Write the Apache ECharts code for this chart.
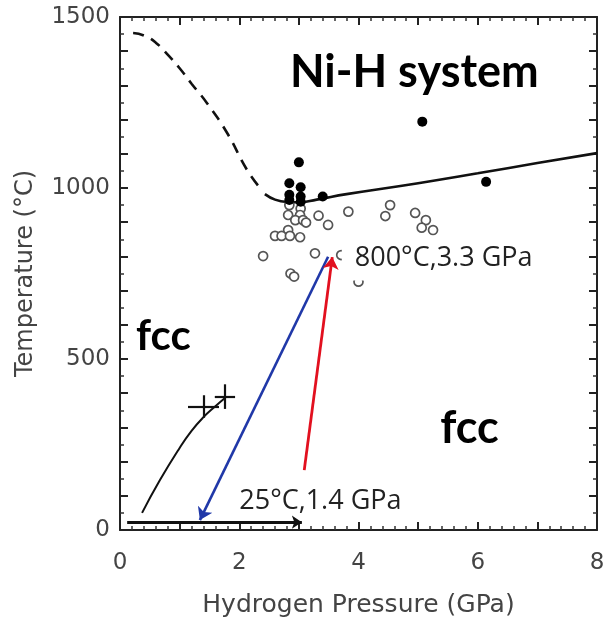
<!DOCTYPE html>
<html>
<head>
<meta charset="utf-8">
<script src="https://cdn.jsdelivr.net/npm/echarts@6/dist/echarts.min.js"></script>
<style>
html,body{margin:0;padding:0;background:#fff;}
#chart{width:605px;height:619px;}
</style>
</head>
<body>
<div id="chart"></div>
<script>
// ---- data (pressure GPa, temperature °C) ----
const dashedBoundary = [[0.22,1453],[0.4,1446],[0.6,1425],[0.8,1390],[1.0,1350],[1.2,1305],[1.46,1248],[1.8,1160],[2.13,1053],[2.35,1000]];
const solidBoundary = [[2.43,982],[2.6,966],[2.8,959],[3.0,958],[3.3,966],[3.8,982],[5.0,1014],[6.0,1043],[7.0,1073],[8.0,1102]];
const filledX = [3.0, 2.84, 3.03, 2.84, 3.03, 2.84, 3.03, 3.4, 5.07, 6.14];
const filledT = [1075, 1014, 1002, 980, 975, 965, 960, 975, 1194, 1018];
const openX = [2.84,3.03,2.82,3.02,2.94,3.07,3.12,3.33,3.49,3.83,2.82,2.6,2.71,2.85,3.02,2.4,3.27,2.86,2.92,3.71,4.0,4.45,4.53,4.95,5.13,5.06,5.25];
const openT = [950,940,921,921,906,906,899,919,892,931,877,860,860,860,856,801,809,750,741,804,726,918,950,927,906,884,877];
const lowCurve = [[0.37,50],[0.67,146],[1.0,240],[1.2,290],[1.4,330],[1.6,362],[1.76,386]];
const crossCenters = [[1.40,361],[1.76,390]];
const crossHalfX = [0.26,0.17];
const crossHalfT = [33,36];
const blueArrow = [[3.49,799],[1.34,29]];
const redArrow = [[3.09,175],[3.56,798]];
const blackArrow = [[0.12,23],[3.05,23]];
const xTicks = [0,2,4,6,8];
const yTicks = [0,500,1000,1500];
const textLabels = [
  {name:'Ni-H system', x:2.85, t:1338},
  {name:'fcc', x:0.27, t:565},
  {name:'fcc', x:5.37, t:298},
  {name:'800°C,3.3 GPa', x:3.72, t:795},
  {name:'25°C,1.4 GPa', x:2.0, t:84}
];

const chart = echarts.init(document.getElementById('chart'));
const axisFont = {fontFamily:'DejaVu Sans', fontSize:23, color:'#444'};
function mkX(pos, showLabel){
  return {
    type:'value', min:0, max:8, interval:1, position:pos,
    axisLine:{show:true, onZero:false, lineStyle:{color:'#222', width:2}},
    axisTick:{show:true, inside:true, length:8, lineStyle:{color:'#222', width:2}},
    minorTick:{show:true, splitNumber:5, length:4, lineStyle:{color:'#333', width:1.5}},
    splitLine:{show:false},
    axisLabel:{show:showLabel, margin:22, ...axisFont,
      formatter:v=> xTicks.indexOf(v)>=0 ? String(v) : ''},
    name: showLabel ? 'Hydrogen Pressure (GPa)' : '',
    nameLocation:'middle', nameGap:63,
    nameTextStyle:{fontFamily:'DejaVu Sans', fontSize:25, color:'#444'}
  };
}
function mkY(pos, showLabel){
  return {
    type:'value', min:0, max:1500, interval:100, position:pos,
    axisLine:{show:true, onZero:false, lineStyle:{color:'#222', width:2}},
    axisTick:{show:true, inside:true, length:8, lineStyle:{color:'#222', width:2}},
    minorTick:{show:true, splitNumber:2, length:4, lineStyle:{color:'#333', width:1.5}},
    splitLine:{show:false},
    axisLabel:{show:showLabel, margin:10, ...axisFont,
      formatter:v=> yTicks.indexOf(v)>=0 ? String(v) : ''},
    name: showLabel ? 'Temperature (°C)' : '',
    nameLocation:'middle', nameGap:82,
    nameTextStyle:{fontFamily:'DejaVu Sans', fontSize:24, color:'#444'}
  };
}

function seg(a,b){ return {coords:[a,b]}; }
const crossSegs = [];
crossCenters.forEach((c,i)=>{
  crossSegs.push(seg([c[0]-crossHalfX[i],c[1]],[c[0]+crossHalfX[i],c[1]]));
  crossSegs.push(seg([c[0],c[1]-crossHalfT[i]],[c[0],c[1]+crossHalfT[i]]));
});

const labelStyles = [
  {fontFamily:'Lato', fontWeight:'bold', fontSize:45, color:'#000', align:'left', verticalAlign:'middle'},
  {fontFamily:'Lato', fontWeight:'bold', fontSize:42, color:'#000', align:'left', verticalAlign:'middle'},
  {fontFamily:'Lato', fontWeight:'bold', fontSize:45, color:'#000', align:'left', verticalAlign:'middle'},
  {fontFamily:'Open Sans', fontSize:27, color:'#222', align:'left', verticalAlign:'middle', backgroundColor:'#fff', padding:[9,6,9,13]},
  {fontFamily:'Open Sans', fontSize:27, color:'#222', align:'left', verticalAlign:'middle'}
];

chart.setOption({
  animation:false,
  backgroundColor:'#fff',
  grid:{left:120, right:8, top:17, bottom:89, containLabel:false, outerBoundsMode:'none'},
  xAxis:[mkX('bottom', true), mkX('top', false)],
  yAxis:[mkY('left', true), mkY('right', false)],
  series:[
    {type:'line', data:dashedBoundary, smooth:true, symbol:'none',
     lineStyle:{color:'#111', width:2.6, type:[11,8]}, z:3},
    {type:'line', data:solidBoundary, smooth:true, symbol:'none',
     lineStyle:{color:'#111', width:2.6}, z:3},
    {type:'line', data:lowCurve, smooth:true, symbol:'none',
     lineStyle:{color:'#111', width:2}, z:3},
    {type:'lines', coordinateSystem:'cartesian2d', data:crossSegs,
     lineStyle:{color:'#111', width:2.2, opacity:1}, symbol:'none', z:3},
    {type:'scatter', data:openX.map((x,i)=>[x,openT[i]]), symbol:'circle', symbolSize:9,
     itemStyle:{color:'#fff', borderColor:'#555', borderWidth:1.7, opacity:1}, z:4},
    {type:'scatter', data:filledX.map((x,i)=>[x,filledT[i]]), symbol:'circle', symbolSize:10,
     itemStyle:{color:'#000', opacity:1}, z:5},
    {type:'lines', coordinateSystem:'cartesian2d', data:[{coords:blueArrow}],
     symbol:['none','arrow'], symbolSize:12, lineStyle:{color:'#2038a8', width:2.6, opacity:1}, z:6},
    {type:'lines', coordinateSystem:'cartesian2d', data:[{coords:redArrow}],
     symbol:['none','arrow'], symbolSize:12, lineStyle:{color:'#e2101f', width:2.8, opacity:1}, z:6},
    {type:'lines', coordinateSystem:'cartesian2d', data:[{coords:blackArrow}],
     symbol:['none','arrow'], symbolSize:10, lineStyle:{color:'#111', width:3, opacity:1}, z:6},
    {type:'scatter', symbolSize:0, z:10, itemStyle:{opacity:1},
     data:textLabels.map((d,i)=>({value:[d.x,d.t], name:d.name,
       label:{show:true, position:[0,0], formatter:d.name, ...labelStyles[i]}}))}
  ]
});
</script>
</body>
</html>
